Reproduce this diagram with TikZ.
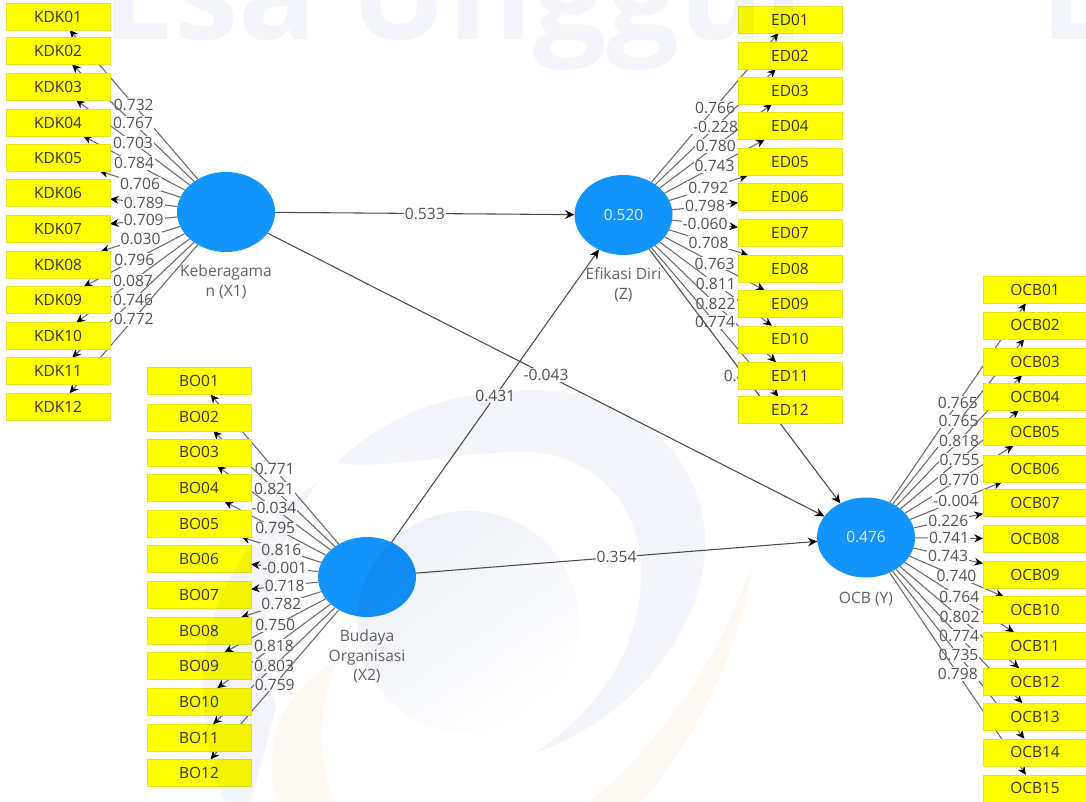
\documentclass[tikz,border=0pt]{standalone}
\usepackage{fontspec}
\setmainfont{Open Sans}
\usetikzlibrary{arrows.meta,positioning,shapes.geometric,backgrounds}
\definecolor{latentblue}{HTML}{1294FB}
\definecolor{boxyellow}{HTML}{FFFF00}
\definecolor{boxedge}{HTML}{E4E420}
\definecolor{wmblue}{HTML}{F3F5FA}
\definecolor{wmdisk}{HTML}{EDF0F6}
\definecolor{wmorange}{HTML}{FEF8F5}
\tikzset{
  indicator/.style={rectangle, draw=boxedge, line width=0.4pt, fill=boxyellow, text=black!80, minimum width=78pt, minimum height=20.25pt, inner sep=0pt, outer sep=0pt, font=\fontsize{11.6}{13}\selectfont},
  latent/.style={ellipse, fill=latentblue, text=white!85!latentblue, minimum width=73.5pt, minimum height=60pt, inner sep=0pt, outer sep=0pt, font=\fontsize{11.6}{13}\selectfont},
  latentname/.style={align=center, text=black!62, inner sep=0pt, font=\fontsize{11.7}{14.6}\selectfont},
  loading/.style={fill=white, text=black!68, inner sep=0.8pt, font=\fontsize{11.7}{13}\selectfont},
  loadarrow/.style={draw=black!58, line width=0.8pt, -{Stealth[length=6.5pt,width=6pt,color=black]}},
  patharrow/.style={draw=black!70, line width=0.8pt, -{Stealth[length=7pt,width=6.5pt,color=black]}},
  watermark/.style={text=wmblue, inner sep=0pt, anchor=base west, font=\fontsize{97}{97}\selectfont\bfseries}
}
\begin{document}
\begin{tikzpicture}[x=0.75pt,y=-0.75pt]
  \useasboundingbox (0,0) rectangle (1086,802);
  \node(x1) [latent] at (226,212) {};
  \node(x2) [latent] at (367,577) {};
  \node(z) [latent] at (623.5,215) {0.520};
  \node(y) [latent] at (866,537.5) {0.476};
  \node(x1name) [latentname, below = 9.5pt of x1] {Keberagama\\n (X1)};
  \node(x2name) [latentname, below = 9.5pt of x2] {Budaya\\Organisasi\\(X2)};
  \node(zname) [latentname, below = 9.5pt of z] {Efikasi Diri\\(Z)};
  \node(yname) [latentname, below = 10.5pt of y] {OCB (Y)};

  \node(kdk01) [indicator] at (58,16.5) {KDK01};
  \node(kdk02) [indicator, below = 5.6pt of kdk01] {KDK02};
  \node(kdk03) [indicator, below = 6.4pt of kdk02] {KDK03};
  \node(kdk04) [indicator, below = 6.9pt of kdk03] {KDK04};
  \node(kdk05) [indicator, below = 5.9pt of kdk04] {KDK05};
  \node(kdk06) [indicator, below = 6.4pt of kdk05] {KDK06};
  \node(kdk07) [indicator, below = 6.8pt of kdk06] {KDK07};
  \node(kdk08) [indicator, below = 6.5pt of kdk07] {KDK08};
  \node(kdk09) [indicator, below = 6.2pt of kdk08] {KDK09};
  \node(kdk10) [indicator, below = 6.8pt of kdk09] {KDK10};
  \node(kdk11) [indicator, below = 6pt of kdk10] {KDK11};
  \node(kdk12) [indicator, below = 6.4pt of kdk11] {KDK12};

  \node(bo01) [indicator] at (199,381) {BO01};
  \node(bo02) [indicator, below = 7.1pt of bo01] {BO02};
  \node(bo03) [indicator, below = 6pt of bo02] {BO03};
  \node(bo04) [indicator, below = 6.4pt of bo03] {BO04};
  \node(bo05) [indicator, below = 6.4pt of bo04] {BO05};
  \node(bo06) [indicator, below = 6pt of bo05] {BO06};
  \node(bo07) [indicator, below = 6.8pt of bo06] {BO07};
  \node(bo08) [indicator, below = 6.8pt of bo07] {BO08};
  \node(bo09) [indicator, below = 6pt of bo08] {BO09};
  \node(bo10) [indicator, below = 6.8pt of bo09] {BO10};
  \node(bo11) [indicator, below = 6.8pt of bo10] {BO11};
  \node(bo12) [indicator, below = 6pt of bo11] {BO12};

  \node(ed01) [indicator] at (790,19.5) {ED01};
  \node(ed02) [indicator, below = 6.8pt of ed01] {ED02};
  \node(ed03) [indicator, below = 6pt of ed02] {ED03};
  \node(ed04) [indicator, below = 6.4pt of ed03] {ED04};
  \node(ed05) [indicator, below = 6.8pt of ed04] {ED05};
  \node(ed06) [indicator, below = 6pt of ed05] {ED06};
  \node(ed07) [indicator, below = 6.4pt of ed06] {ED07};
  \node(ed08) [indicator, below = 6.8pt of ed07] {ED08};
  \node(ed09) [indicator, below = 6pt of ed08] {ED09};
  \node(ed10) [indicator, below = 6.4pt of ed09] {ED10};
  \node(ed11) [indicator, below = 7.1pt of ed10] {ED11};
  \node(ed12) [indicator, below = 5.6pt of ed11] {ED12};

  \node(ocb01) [indicator] at (1035,289.7) {OCB01};
  \node(ocb02) [indicator, below = 6.45pt of ocb01] {OCB02};
  \node(ocb03) [indicator, below = 7pt of ocb02] {OCB03};
  \node(ocb04) [indicator, below = 6pt of ocb03] {OCB04};
  \node(ocb05) [indicator, below = 6.45pt of ocb04] {OCB05};
  \node(ocb06) [indicator, below = 7pt of ocb05] {OCB06};
  \node(ocb07) [indicator, below = 5.7pt of ocb06] {OCB07};
  \node(ocb08) [indicator, below = 6.45pt of ocb07] {OCB08};
  \node(ocb09) [indicator, below = 7pt of ocb08] {OCB09};
  \node(ocb10) [indicator, below = 6pt of ocb09] {OCB10};
  \node(ocb11) [indicator, below = 6.45pt of ocb10] {OCB11};
  \node(ocb12) [indicator, below = 6.75pt of ocb11] {OCB12};
  \node(ocb13) [indicator, below = 6pt of ocb12] {OCB13};
  \node(ocb14) [indicator, below = 6.45pt of ocb13] {OCB14};
  \node(ocb15) [indicator, below = 6.75pt of ocb14] {OCB15};

  \begin{pgfonlayer}{background}
    \fill[white] (0,0) rectangle (1086,802);
    \draw[loadarrow] (x1) to node[loading]{0.732} (kdk01);
    \draw[loadarrow] (x1) to node[loading]{0.767} (kdk02);
    \draw[loadarrow] (x1) to node[loading]{0.703} (kdk03);
    \draw[loadarrow] (x1) to node[loading]{0.784} (kdk04);
    \draw[loadarrow] (x1) to node[loading]{0.706} (kdk05);
    \draw[loadarrow] (x1) to node[loading]{0.789} (kdk06);
    \draw[loadarrow] (x1) to node[loading]{0.709} (kdk07);
    \draw[loadarrow] (x1) to node[loading]{0.030} (kdk08);
    \draw[loadarrow] (x1) to node[loading]{0.796} (kdk09);
    \draw[loadarrow] (x1) to node[loading]{0.087} (kdk10);
    \draw[loadarrow] (x1) to node[loading]{0.746} (kdk11);
    \draw[loadarrow] (x1) to node[loading]{0.772} (kdk12);

    \draw[loadarrow] (x2) to node[loading]{0.771} (bo01);
    \draw[loadarrow] (x2) to node[loading]{0.821} (bo02);
    \draw[loadarrow] (x2) to node[loading]{-0.034} (bo03);
    \draw[loadarrow] (x2) to node[loading]{0.795} (bo04);
    \draw[loadarrow] (x2) to node[loading]{0.816} (bo05);
    \draw[loadarrow] (x2) to node[loading]{-0.001} (bo06);
    \draw[loadarrow] (x2) to node[loading]{0.718} (bo07);
    \draw[loadarrow] (x2) to node[loading]{0.782} (bo08);
    \draw[loadarrow] (x2) to node[loading]{0.750} (bo09);
    \draw[loadarrow] (x2) to node[loading]{0.818} (bo10);
    \draw[loadarrow] (x2) to node[loading]{0.803} (bo11);
    \draw[loadarrow] (x2) to node[loading]{0.759} (bo12);

    \draw[loadarrow] (z) to node[loading]{0.766} (ed01);
    \draw[loadarrow] (z) to node[loading]{-0.228} (ed02);
    \draw[loadarrow] (z) to node[loading]{0.780} (ed03);
    \draw[loadarrow] (z) to node[loading]{0.743} (ed04);
    \draw[loadarrow] (z) to node[loading]{0.792} (ed05);
    \draw[loadarrow] (z) to node[loading]{0.798} (ed06);
    \draw[loadarrow] (z) to node[loading]{-0.060} (ed07);
    \draw[loadarrow] (z) to node[loading]{0.708} (ed08);
    \draw[loadarrow] (z) to node[loading]{0.763} (ed09);
    \draw[loadarrow] (z) to node[loading]{0.811} (ed10);
    \draw[loadarrow] (z) to node[loading]{0.822} (ed11);
    \draw[loadarrow] (z) to node[loading]{0.774} (ed12);

    \draw[loadarrow] (y) to node[loading]{0.765} (ocb01);
    \draw[loadarrow] (y) to node[loading]{0.765} (ocb02);
    \draw[loadarrow] (y) to node[loading]{0.818} (ocb03);
    \draw[loadarrow] (y) to node[loading]{0.755} (ocb04);
    \draw[loadarrow] (y) to node[loading]{0.770} (ocb05);
    \draw[loadarrow] (y) to node[loading]{-0.004} (ocb06);
    \draw[loadarrow] (y) to node[loading]{0.226} (ocb07);
    \draw[loadarrow] (y) to node[loading]{0.741} (ocb08);
    \draw[loadarrow] (y) to node[loading]{0.743} (ocb09);
    \draw[loadarrow] (y) to node[loading]{0.740} (ocb10);
    \draw[loadarrow] (y) to node[loading]{0.764} (ocb11);
    \draw[loadarrow] (y) to node[loading]{0.802} (ocb12);
    \draw[loadarrow] (y) to node[loading]{0.774} (ocb13);
    \draw[loadarrow] (y) to node[loading]{0.735} (ocb14);
    \draw[loadarrow] (y) to node[loading]{0.798} (ocb15);

    \draw[patharrow] (x1) to node[loading]{0.533} (z);
    \draw[patharrow] (x1) to node[loading]{-0.043} (y);
    \draw[patharrow] (x2) to node[loading]{0.431} (z);
    \draw[patharrow] (x2) to node[loading]{0.354} (y);
    \draw[patharrow] (z) to node[loading, xshift=-7.5pt]{0.4} (y);
  \end{pgfonlayer}

  \begin{scope}[blend mode=multiply]
    \clip (0,0) rectangle (1086,802);
    \fill[wmorange] (337,660) .. controls (290,690) and (260,730) .. (276,802) -- (335,802) .. controls (315,760) and (320,700) .. cycle;
    \fill[wmorange] (751,568) .. controls (745,640) and (690,750) .. (641,802) -- (590,802) .. controls (650,750) and (710,680) .. cycle;
    \fill[wmblue] (337,463) .. controls (390,410) and (460,390) .. (534,390) .. controls (630,390) and (705,455) .. (705,543) .. controls (705,630) and (630,720) .. (537,752) .. controls (610,700) and (641,640) .. (641,573) .. controls (641,500) and (590,452) .. (523,452) .. controls (450,452) and (390,470) .. cycle;
    \fill[wmblue] (317,483) .. controls (260,520) and (205,590) .. (203,680) .. controls (202,730) and (212,770) .. (225,802) -- (251,802) -- (276,707) .. controls (250,630) and (270,550) .. cycle;
    \shade[left color=wmdisk, right color=white, shading angle=35] (468,622) circle (111);
    \node(wmesa) [watermark] at (102,40) {Esa Unggul};
    \node(wmesatwo) [watermark] at (1040,40) {E};
  \end{scope}
\end{tikzpicture}
\end{document}
